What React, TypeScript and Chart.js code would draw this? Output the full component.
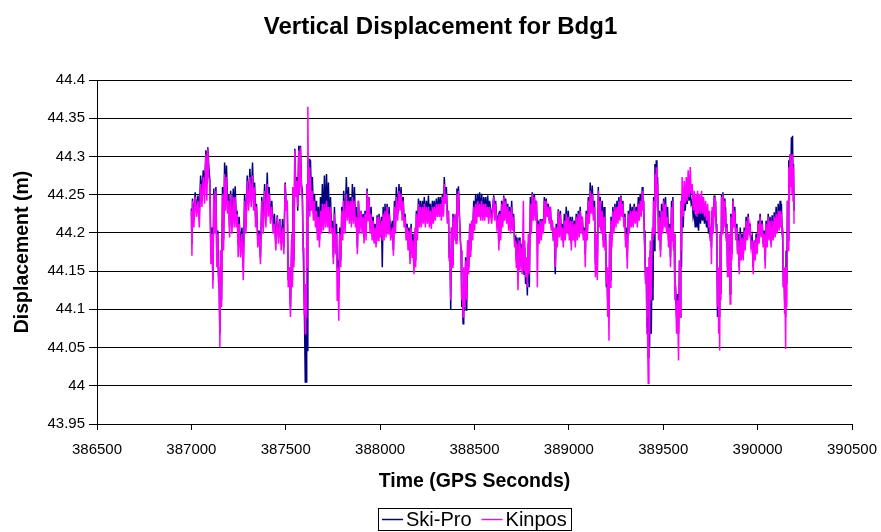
import React, { useEffect, useRef } from "react";
import { Chart, registerables } from "chart.js";

Chart.register(...registerables);

const TITLE = "Vertical Displacement for Bdg1";
const X_TITLE = "Time (GPS Seconds)";
const Y_TITLE = "Displacement (m)";
const SERIES_NAMES = ["Ski-Pro", "Kinpos"];
const SERIES_COLORS = ["#000080", "#FF00FF"];

const X_TICKS = [386500, 387000, 387500, 388000, 388500, 389000, 389500, 390000, 390500];
const Y_TICKS = [43.95, 44, 44.05, 44.1, 44.15, 44.2, 44.25, 44.3, 44.35, 44.4];

// Sample times (GPS seconds)
const TIMES = [
  387000, 387006, 387020, 387035, 387049, 387063, 387077, 387087, 387098, 387109,
  387119, 387130, 387140, 387147, 387155, 387165, 387176, 387186, 387197, 387208,
  387222, 387232, 387243, 387253, 387268, 387282, 387296, 387310, 387324, 387335,
  387345, 387359, 387373, 387388, 387402, 387412, 387426, 387440, 387455, 387469,
  387483, 387497, 387508, 387518,
  387532, 387539, 387548, 387558, 387569, 387578, 387588, 387596, 387601, 387606,
  387611, 387617, 387624, 387631, 387641, 387652, 387663, 387673, 387684, 387694,
  387705, 387716, 387726, 387737, 387747, 387758, 387769, 387776, 387786, 387797,
  387807, 387821, 387832, 387843, 387853, 387864, 387874, 387885, 387899, 387910,
  387920, 387931, 387941, 387952, 387963, 387973, 387984, 387994, 388007, 388016,
  388026, 388037, 388047,
  388065, 388076, 388086, 388100, 388111, 388122, 388132, 388143, 388153, 388164,
  388174, 388185, 388192, 388203, 388213, 388224, 388234, 388245, 388256, 388266,
  388277, 388287, 388298, 388309, 388319, 388330, 388340, 388351, 388362, 388370,
  388378, 388386, 388397, 388407, 388415, 388422, 388429, 388436, 388443, 388453,
  388464, 388475, 388485, 388496, 388506, 388517, 388527, 388538, 388549, 388559,
  388570, 388580,
  388602, 388612, 388625, 388633, 388644, 388655, 388665, 388676, 388686, 388697,
  388707, 388718, 388725, 388736, 388746, 388759, 388766, 388775, 388785, 388796,
  388806, 388817, 388828, 388838, 388849, 388859, 388870, 388880, 388891, 388902,
  388912, 388923, 388933, 388944, 388955, 388965, 388976, 388986, 388997, 389008,
  389018, 389029, 389039, 389050, 389060, 389071, 389082, 389092, 389103, 389113,
  389124, 389136,
  389145, 389156, 389166, 389177, 389187, 389195, 389202, 389209, 389216, 389223,
  389233, 389244, 389255, 389265, 389276, 389286, 389297, 389304, 389315, 389325,
  389336, 389346, 389357, 389368, 389378, 389389, 389396, 389403, 389410, 389417,
  389424, 389431, 389442, 389449, 389456, 389463, 389470, 389480, 389491, 389502,
  389512, 389523, 389533, 389544, 389551, 389558, 389565, 389576, 389586, 389593,
  389600, 389611, 389622, 389632, 389643, 389653, 389664, 389675,
  389682, 389692, 389703, 389713, 389724, 389735, 389745, 389752, 389759, 389770,
  389777, 389784, 389791, 389796, 389802, 389809, 389816, 389823, 389830, 389837,
  389844, 389851, 389858, 389869, 389879, 389890, 389897, 389908, 389918, 389929,
  389939, 389950, 389960, 389971, 389982, 389992, 390003, 390013, 390024, 390035,
  390045, 390056, 390066, 390077, 390088, 390098, 390109, 390119, 390126, 390133,
  390140, 390146, 390151, 390158, 390165, 390172, 390179, 390185, 390190,
];

// Kinpos: upper and lower edge of the noisy band at each sample time
const KIN_HI = [
  44.229, 44.242, 44.247, 44.242, 44.264, 44.273, 44.303, 44.310, 44.264, 44.199,
  44.251, 44.255, 44.199, 44.155, 44.177, 44.251, 44.277, 44.273, 44.242, 44.251,
  44.247, 44.247, 44.225, 44.212, 44.199, 44.242, 44.268, 44.273, 44.275, 44.260,
  44.234, 44.199, 44.242, 44.255, 44.264, 44.251, 44.234, 44.212, 44.221, 44.216,
  44.207, 44.264, 44.242, 44.155,
  44.199, 44.260, 44.308, 44.268, 44.308, 44.312, 44.242, 44.181, 44.112, 44.133,
  44.264, 44.365, 44.286, 44.273, 44.255, 44.242, 44.229, 44.221, 44.229, 44.238,
  44.238, 44.242, 44.234, 44.234, 44.207, 44.225, 44.199, 44.155, 44.199, 44.229,
  44.242, 44.251, 44.242, 44.242, 44.247, 44.242, 44.221, 44.242, 44.229, 44.221,
  44.225, 44.255, 44.247, 44.225, 44.216, 44.207, 44.221, 44.221, 44.216, 44.225,
  44.229, 44.234, 44.225,
  44.207, 44.234, 44.247, 44.255, 44.251, 44.242, 44.221, 44.207, 44.203, 44.207,
  44.190, 44.207, 44.225, 44.238, 44.234, 44.234, 44.238, 44.234, 44.234, 44.229,
  44.234, 44.234, 44.238, 44.238, 44.238, 44.247, 44.264, 44.251, 44.229, 44.177,
  44.207, 44.221, 44.225, 44.251, 44.255, 44.229, 44.177, 44.133, 44.155, 44.164,
  44.190, 44.212, 44.216, 44.234, 44.238, 44.242, 44.238, 44.242, 44.238, 44.238,
  44.234, 44.234,
  44.247, 44.238, 44.216, 44.225, 44.238, 44.247, 44.242, 44.234, 44.229, 44.234,
  44.221, 44.190, 44.186, 44.190, 44.181, 44.242, 44.190, 44.168, 44.199, 44.238,
  44.251, 44.247, 44.242, 44.212, 44.216, 44.216, 44.242, 44.242, 44.234, 44.234,
  44.216, 44.207, 44.207, 44.229, 44.225, 44.207, 44.216, 44.225, 44.221, 44.216,
  44.216, 44.212, 44.221, 44.225, 44.229, 44.221, 44.203, 44.225, 44.242, 44.255,
  44.251, 44.234,
  44.199, 44.255, 44.242, 44.229, 44.221, 44.190, 44.155, 44.133, 44.199, 44.216,
  44.229, 44.234, 44.234, 44.242, 44.247, 44.238, 44.221, 44.199, 44.225, 44.229,
  44.229, 44.234, 44.229, 44.238, 44.242, 44.255, 44.242, 44.199, 44.155, 44.068,
  44.168, 44.190, 44.207, 44.242, 44.277, 44.286, 44.264, 44.221, 44.229, 44.242,
  44.238, 44.221, 44.207, 44.234, 44.242, 44.199, 44.133, 44.112, 44.164, 44.242,
  44.273, 44.268, 44.273, 44.282, 44.286, 44.264, 44.255, 44.251,
  44.255, 44.251, 44.255, 44.247, 44.242, 44.238, 44.229, 44.207, 44.234, 44.247,
  44.242, 44.199, 44.155, 44.112, 44.199, 44.247, 44.251, 44.242, 44.229, 44.207,
  44.199, 44.177, 44.221, 44.242, 44.229, 44.207, 44.190, 44.199, 44.194, 44.203,
  44.216, 44.221, 44.207, 44.190, 44.190, 44.194, 44.212, 44.221, 44.212, 44.199,
  44.212, 44.221, 44.216, 44.216, 44.221, 44.225, 44.229, 44.229, 44.225, 44.207,
  44.155, 44.103, 44.155, 44.242, 44.286, 44.303, 44.295, 44.303, 44.286,
];

const KIN_LO = [
  44.170, 44.207, 44.221, 44.207, 44.234, 44.238, 44.242, 44.273, 44.159, 44.127,
  44.199, 44.155, 44.135, 44.050, 44.103, 44.177, 44.229, 44.225, 44.194, 44.199,
  44.207, 44.207, 44.168, 44.168, 44.138, 44.199, 44.229, 44.234, 44.229, 44.207,
  44.181, 44.159, 44.199, 44.207, 44.221, 44.212, 44.199, 44.177, 44.186, 44.177,
  44.172, 44.229, 44.129, 44.090,
  44.129, 44.155, 44.247, 44.234, 44.251, 44.260, 44.177, 44.094, 44.068, 44.090,
  44.155, 44.242, 44.221, 44.229, 44.216, 44.207, 44.190, 44.181, 44.199, 44.203,
  44.207, 44.207, 44.199, 44.199, 44.159, 44.172, 44.112, 44.085, 44.155, 44.190,
  44.199, 44.216, 44.212, 44.207, 44.212, 44.207, 44.172, 44.199, 44.199, 44.186,
  44.190, 44.216, 44.199, 44.190, 44.186, 44.181, 44.190, 44.194, 44.190, 44.190,
  44.194, 44.199, 44.190,
  44.170, 44.199, 44.216, 44.229, 44.216, 44.207, 44.190, 44.177, 44.159, 44.168,
  44.146, 44.155, 44.190, 44.207, 44.207, 44.212, 44.207, 44.212, 44.207, 44.205,
  44.212, 44.216, 44.221, 44.221, 44.216, 44.221, 44.238, 44.212, 44.164, 44.112,
  44.155, 44.190, 44.186, 44.221, 44.229, 44.186, 44.112, 44.090, 44.103, 44.112,
  44.146, 44.168, 44.190, 44.203, 44.212, 44.221, 44.216, 44.216, 44.216, 44.221,
  44.212, 44.212,
  44.216, 44.207, 44.177, 44.190, 44.207, 44.216, 44.212, 44.203, 44.199, 44.203,
  44.181, 44.155, 44.125, 44.151, 44.146, 44.151, 44.142, 44.129, 44.146, 44.199,
  44.216, 44.216, 44.129, 44.186, 44.190, 44.199, 44.212, 44.221, 44.212, 44.203,
  44.190, 44.155, 44.181, 44.194, 44.190, 44.181, 44.190, 44.199, 44.190, 44.177,
  44.190, 44.181, 44.190, 44.194, 44.199, 44.190, 44.155, 44.190, 44.212, 44.225,
  44.216, 44.142,
  44.138, 44.207, 44.199, 44.181, 44.177, 44.133, 44.090, 44.059, 44.129, 44.181,
  44.199, 44.207, 44.212, 44.216, 44.221, 44.207, 44.181, 44.153, 44.199, 44.207,
  44.207, 44.212, 44.207, 44.216, 44.221, 44.229, 44.199, 44.133, 44.068, 44.003,
  44.068, 44.112, 44.190, 44.199, 44.229, 44.247, 44.190, 44.168, 44.199, 44.207,
  44.199, 44.181, 44.155, 44.190, 44.177, 44.112, 44.068, 44.033, 44.090, 44.177,
  44.221, 44.238, 44.242, 44.247, 44.251, 44.229, 44.225, 44.221,
  44.225, 44.225, 44.225, 44.221, 44.216, 44.207, 44.190, 44.159, 44.199, 44.221,
  44.207, 44.103, 44.068, 44.046, 44.112, 44.199, 44.225, 44.207, 44.190, 44.142,
  44.142, 44.107, 44.164, 44.207, 44.190, 44.172, 44.146, 44.164, 44.164, 44.177,
  44.190, 44.199, 44.181, 44.146, 44.164, 44.172, 44.186, 44.194, 44.181, 44.153,
  44.181, 44.190, 44.181, 44.190, 44.194, 44.199, 44.203, 44.207, 44.199, 44.129,
  44.094, 44.048, 44.103, 44.177, 44.242, 44.260, 44.251, 44.242, 44.212,
];

// Ski-Pro: upper and lower edge of the noisy band at each sample time
const SKI_HI = [
  44.232, 44.245, 44.253, 44.249, 44.275, 44.282, 44.308, 44.312, 44.268, 44.207,
  44.258, 44.260, 44.203, 44.133, 44.177, 44.260, 44.292, 44.288, 44.251, 44.255,
  44.258, 44.261, 44.225, 44.221, 44.207, 44.251, 44.275, 44.284, 44.292, 44.266,
  44.238, 44.203, 44.247, 44.264, 44.279, 44.260, 44.242, 44.225, 44.223, 44.218,
  44.218, 44.266, 44.238, 44.155,
  44.199, 44.260, 44.310, 44.273, 44.314, 44.314, 44.255, 44.186, 44.103, 44.068,
  44.199, 44.295, 44.297, 44.295, 44.273, 44.251, 44.242, 44.234, 44.247, 44.264,
  44.275, 44.277, 44.266, 44.247, 44.216, 44.234, 44.212, 44.164, 44.207, 44.234,
  44.255, 44.273, 44.260, 44.247, 44.264, 44.260, 44.234, 44.242, 44.229, 44.225,
  44.229, 44.258, 44.247, 44.234, 44.221, 44.212, 44.223, 44.225, 44.221, 44.234,
  44.238, 44.238, 44.234,
  44.216, 44.242, 44.260, 44.264, 44.260, 44.247, 44.225, 44.212, 44.207, 44.212,
  44.199, 44.203, 44.229, 44.245, 44.242, 44.242, 44.247, 44.242, 44.249, 44.238,
  44.242, 44.242, 44.245, 44.247, 44.247, 44.251, 44.273, 44.260, 44.229, 44.177,
  44.207, 44.225, 44.223, 44.258, 44.261, 44.234, 44.177, 44.112, 44.142, 44.168,
  44.190, 44.212, 44.216, 44.242, 44.251, 44.251, 44.253, 44.251, 44.247, 44.247,
  44.249, 44.242,
  44.249, 44.242, 44.221, 44.229, 44.242, 44.249, 44.245, 44.238, 44.234, 44.242,
  44.225, 44.194, 44.194, 44.194, 44.186, 44.172, 44.181, 44.164, 44.186, 44.247,
  44.253, 44.251, 44.242, 44.216, 44.218, 44.218, 44.247, 44.245, 44.238, 44.234,
  44.216, 44.199, 44.212, 44.231, 44.229, 44.212, 44.225, 44.234, 44.229, 44.221,
  44.221, 44.216, 44.225, 44.229, 44.234, 44.221, 44.207, 44.229, 44.247, 44.266,
  44.262, 44.242,
  44.190, 44.260, 44.247, 44.242, 44.234, 44.199, 44.146, 44.129, 44.199, 44.221,
  44.234, 44.238, 44.242, 44.247, 44.249, 44.242, 44.225, 44.207, 44.229, 44.238,
  44.234, 44.238, 44.234, 44.247, 44.251, 44.260, 44.242, 44.172, 44.155, 44.090,
  44.155, 44.177, 44.199, 44.247, 44.290, 44.295, 44.273, 44.229, 44.238, 44.245,
  44.247, 44.234, 44.212, 44.242, 44.247, 44.199, 44.129, 44.120, 44.164, 44.229,
  44.251, 44.247, 44.255, 44.260, 44.255, 44.242, 44.229, 44.225,
  44.229, 44.234, 44.234, 44.229, 44.225, 44.221, 44.212, 44.207, 44.229, 44.249,
  44.242, 44.190, 44.133, 44.112, 44.199, 44.251, 44.253, 44.245, 44.234, 44.212,
  44.199, 44.181, 44.225, 44.245, 44.234, 44.212, 44.199, 44.207, 44.199, 44.207,
  44.221, 44.225, 44.212, 44.194, 44.190, 44.199, 44.216, 44.225, 44.216, 44.203,
  44.216, 44.225, 44.221, 44.223, 44.227, 44.234, 44.238, 44.242, 44.238, 44.190,
  44.146, 44.112, 44.177, 44.242, 44.295, 44.303, 44.325, 44.327, 44.290,
];

const SKI_LO = [
  44.185, 44.216, 44.229, 44.225, 44.251, 44.260, 44.264, 44.286, 44.168, 44.138,
  44.207, 44.164, 44.146, 44.068, 44.112, 44.190, 44.242, 44.238, 44.207, 44.210,
  44.221, 44.221, 44.186, 44.181, 44.155, 44.207, 44.238, 44.242, 44.242, 44.221,
  44.190, 44.168, 44.207, 44.221, 44.234, 44.221, 44.207, 44.186, 44.194, 44.186,
  44.181, 44.234, 44.138, 44.103,
  44.138, 44.164, 44.255, 44.229, 44.260, 44.264, 44.186, 44.103, 44.005, 44.005,
  44.046, 44.229, 44.229, 44.242, 44.225, 44.216, 44.199, 44.190, 44.207, 44.212,
  44.216, 44.216, 44.207, 44.207, 44.168, 44.181, 44.155, 44.129, 44.164, 44.199,
  44.207, 44.225, 44.221, 44.216, 44.221, 44.216, 44.181, 44.207, 44.207, 44.194,
  44.199, 44.221, 44.207, 44.199, 44.190, 44.186, 44.194, 44.199, 44.155, 44.199,
  44.199, 44.203, 44.199,
  44.177, 44.207, 44.225, 44.234, 44.225, 44.216, 44.199, 44.186, 44.168, 44.177,
  44.155, 44.164, 44.199, 44.216, 44.216, 44.221, 44.216, 44.221, 44.216, 44.212,
  44.221, 44.223, 44.225, 44.225, 44.223, 44.225, 44.242, 44.221, 44.168, 44.099,
  44.159, 44.194, 44.190, 44.225, 44.234, 44.190, 44.103, 44.081, 44.098, 44.098,
  44.155, 44.177, 44.199, 44.212, 44.221, 44.225, 44.223, 44.223, 44.223, 44.225,
  44.218, 44.218,
  44.223, 44.214, 44.186, 44.199, 44.214, 44.223, 44.218, 44.210, 44.205, 44.210,
  44.190, 44.164, 44.155, 44.159, 44.155, 44.146, 44.133, 44.118, 44.129, 44.207,
  44.225, 44.223, 44.199, 44.192, 44.197, 44.203, 44.218, 44.225, 44.216, 44.207,
  44.194, 44.146, 44.186, 44.201, 44.197, 44.188, 44.197, 44.205, 44.197, 44.186,
  44.197, 44.188, 44.197, 44.201, 44.205, 44.197, 44.172, 44.197, 44.218, 44.229,
  44.223, 44.160,
  44.146, 44.212, 44.203, 44.190, 44.186, 44.129, 44.112, 44.090, 44.138, 44.190,
  44.205, 44.214, 44.218, 44.223, 44.225, 44.214, 44.190, 44.168, 44.205, 44.214,
  44.214, 44.218, 44.214, 44.223, 44.227, 44.234, 44.203, 44.138, 44.077, 44.037,
  44.050, 44.068, 44.112, 44.177, 44.234, 44.251, 44.199, 44.177, 44.205, 44.214,
  44.205, 44.190, 44.168, 44.199, 44.181, 44.129, 44.090, 44.068, 44.090, 44.155,
  44.207, 44.229, 44.238, 44.242, 44.238, 44.221, 44.207, 44.207,
  44.203, 44.212, 44.216, 44.212, 44.207, 44.199, 44.194, 44.181, 44.203, 44.225,
  44.212, 44.090, 44.090, 44.090, 44.120, 44.203, 44.229, 44.212, 44.194, 44.155,
  44.151, 44.120, 44.172, 44.212, 44.194, 44.177, 44.155, 44.168, 44.168, 44.181,
  44.194, 44.203, 44.186, 44.155, 44.168, 44.177, 44.190, 44.199, 44.186, 44.164,
  44.186, 44.194, 44.186, 44.194, 44.199, 44.203, 44.207, 44.212, 44.203, 44.129,
  44.112, 44.090, 44.133, 44.190, 44.251, 44.264, 44.264, 44.260, 44.229,
];

const FONT = '"Liberation Sans", Arial, Helvetica, sans-serif';

function bandPoints(hi: number[], lo: number[]) {
  const pts: { x: number; y: number }[] = [];
  for (let i = 0; i < TIMES.length; i++) {
    const t = TIMES[i];
    const next = i + 1 < TIMES.length ? TIMES[i + 1] : t + 6;
    pts.push({ x: t, y: hi[i] });
    pts.push({ x: (t + next) / 2, y: lo[i] });
  }
  return pts;
}

const legendBoxPlugin = {
  id: "legendBoxPlugin",
  afterDraw(chart: any) {
    const ctx = chart.ctx as CanvasRenderingContext2D;
    const { left, right } = chart.chartArea;
    ctx.save();
    ctx.font = `20px ${FONT}`;
    const lineLen = 21;
    const gap = 3;
    const itemGap = 10;
    const padX = 4;
    const datasets = chart.data.datasets;
    const widths = datasets.map((d: any) => ctx.measureText(d.label).width);
    let total = padX * 2 + itemGap * (datasets.length - 1);
    widths.forEach((w: number) => (total += lineLen + gap + w));
    const cx = (left + right) / 2;
    const h = 22;
    const top = chart.height - 24;
    let x = Math.round(cx - total / 2);
    ctx.strokeStyle = "#000";
    ctx.lineWidth = 1;
    ctx.strokeRect(x + 0.5, top + 0.5, Math.round(total), h);
    const cy = top + h / 2 + 0.5;
    x += padX;
    datasets.forEach((d: any, i: number) => {
      ctx.strokeStyle = d.borderColor;
      ctx.lineWidth = 1.5;
      ctx.beginPath();
      ctx.moveTo(x, cy);
      ctx.lineTo(x + lineLen, cy);
      ctx.stroke();
      x += lineLen + gap;
      ctx.fillStyle = "#000";
      ctx.textBaseline = "middle";
      ctx.textAlign = "left";
      ctx.fillText(d.label, x, cy + 1);
      x += widths[i] + itemGap;
    });
    ctx.restore();
  },
};

export default function App() {
  const canvasRef = useRef<HTMLCanvasElement | null>(null);

  useEffect(() => {
    if (!canvasRef.current) return;
    const chart = new Chart(canvasRef.current, {
      type: "line",
      data: {
        datasets: [
          {
            label: SERIES_NAMES[0],
            data: bandPoints(SKI_HI, SKI_LO),
            borderColor: SERIES_COLORS[0],
            backgroundColor: SERIES_COLORS[0],
            borderWidth: 1.5,
            pointRadius: 0,
            tension: 0,
            fill: false,
            order: 1,
          },
          {
            label: SERIES_NAMES[1],
            data: bandPoints(KIN_HI, KIN_LO),
            borderColor: SERIES_COLORS[1],
            backgroundColor: SERIES_COLORS[1],
            borderWidth: 1.5,
            pointRadius: 0,
            tension: 0,
            fill: false,
            order: 0,
          },
        ],
      },
      options: {
        animation: false,
        responsive: false,
        devicePixelRatio: 1,
        layout: { padding: { left: 0, right: 0, top: 0, bottom: 30 } },
        plugins: {
          legend: { display: false },
          tooltip: { enabled: false },
          title: {
            display: true,
            text: TITLE,
            color: "#000",
            font: { family: FONT, size: 24, weight: "bold" },
            padding: { top: 13, bottom: 38.2 },
          },
        },
        scales: {
          x: {
            type: "linear",
            min: X_TICKS[0],
            max: X_TICKS[X_TICKS.length - 1],
            afterBuildTicks: (s: any) => {
              s.ticks = X_TICKS.map((v) => ({ value: v }));
            },
            afterFit: (s: any) => {
              s.height = 78;
              s.paddingRight = 29;
            },
            ticks: {
              color: "#000",
              font: { family: FONT, size: 15 },
              padding: 11,
              maxRotation: 0,
              autoSkip: false,
              callback: (v: any) => String(v),
            },
            grid: {
              display: true,
              drawOnChartArea: false,
              drawTicks: true,
              tickLength: 6,
              color: "#000",
            },
            border: { display: true, color: "#000", width: 1 },
            title: {
              display: true,
              text: X_TITLE,
              color: "#000",
              font: { family: FONT, size: 19.5, weight: "bold" },
              padding: { top: 0, bottom: 9 },
            },
          },
          y: {
            type: "linear",
            min: Y_TICKS[0],
            max: Y_TICKS[Y_TICKS.length - 1],
            afterBuildTicks: (s: any) => {
              s.ticks = Y_TICKS.map((v) => ({ value: v }));
            },
            afterFit: (s: any) => {
              s.width = 97;
            },
            ticks: {
              color: "#000",
              font: { family: FONT, size: 15 },
              padding: 4,
              autoSkip: false,
              callback: (v: any) => String(Number(Number(v).toFixed(2))),
            },
            grid: {
              display: true,
              drawOnChartArea: true,
              drawTicks: true,
              tickLength: 8,
              color: "#000",
              lineWidth: 1,
            },
            border: { display: true, color: "#000", width: 1 },
            title: {
              display: true,
              text: Y_TITLE,
              color: "#000",
              font: { family: FONT, size: 19.5, weight: "bold" },
              padding: { top: 11, bottom: 0 },
            },
          },
        },
      } as any,
      plugins: [legendBoxPlugin],
    });
    return () => chart.destroy();
  }, []);

  return (
    <div style={{ position: "fixed", left: 0, top: 0, width: 881, height: 532, background: "#fff" }}>
      <canvas ref={canvasRef} width={881} height={532} style={{ display: "block" }} />
    </div>
  );
}
